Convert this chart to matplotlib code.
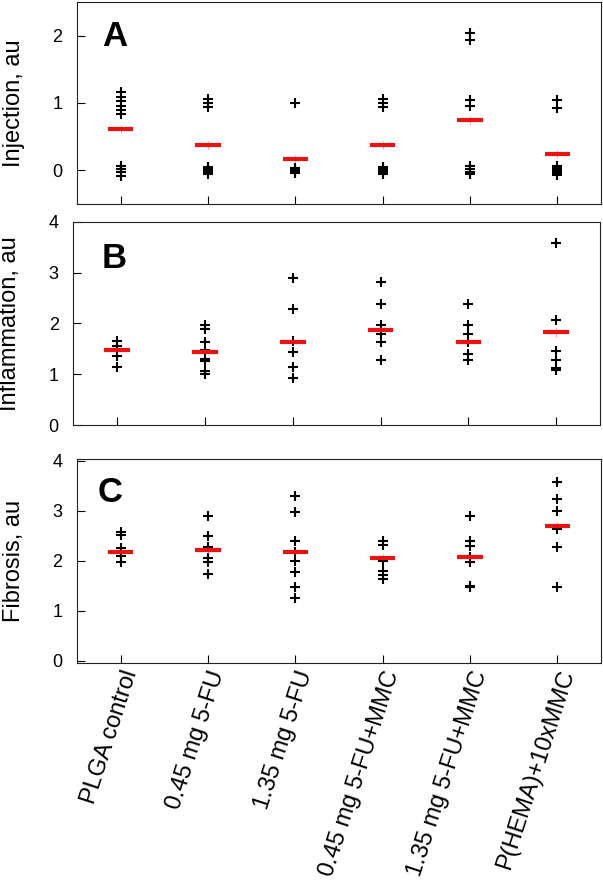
import matplotlib.pyplot as plt

plt.rcParams["font.family"] = ["Liberation Sans", "DejaVu Sans"]

groups = ["PLGA control", "0.45 mg 5-FU", "1.35 mg 5-FU",
          "0.45 mg 5-FU+MMC", "1.35 mg 5-FU+MMC", "P(HEMA)+10xMMC"]

# scores per group (jittered where they overlap)
injection = [
    [1.16, 1.09, 1.03, 0.96, 0.90, 0.84, 0.07, 0.02, -0.03, -0.08],
    [1.06, 1.00, 0.94, 0.05, 0.03, 0.01, -0.01, -0.03, -0.05],
    [1.00, 0.04, 0.02, 0.0, -0.02, -0.04],
    [1.06, 1.00, 0.94, 0.05, 0.03, 0.01, -0.01, -0.03, -0.05],
    [2.04, 1.94, 1.05, 0.95, 0.06, 0.02, -0.02, -0.06],
    [1.04, 0.93, 0.06, 0.035, 0.01, -0.015, -0.04, -0.065],
]
injection_mean = [0.62, 0.375, 0.165, 0.375, 0.75, 0.245]

inflammation = [
    [1.66, 1.55, 1.50, 1.36, 1.15],
    [1.96, 1.88, 1.64, 1.48, 1.29, 1.25, 1.06, 1.00],
    [2.89, 2.28, 1.66, 1.43, 1.15, 0.92],
    [2.81, 2.38, 1.97, 1.80, 1.63, 1.28],
    [2.38, 1.97, 1.80, 1.63, 1.39, 1.28],
    [3.59, 2.07, 1.46, 1.28, 1.12, 1.08],
]
inflammation_mean = [1.47, 1.44, 1.63, 1.865, 1.63, 1.82]

fibrosis = [
    [2.58, 2.51, 2.25, 2.10, 1.98],
    [2.89, 2.50, 2.28, 2.05, 1.98, 1.73],
    [3.30, 2.97, 2.39, 2.17, 1.99, 1.78, 1.48, 1.26],
    [2.40, 2.31, 2.00, 1.79, 1.71, 1.63],
    [2.89, 2.40, 2.29, 2.07, 1.98, 1.49, 1.47],
    [3.58, 3.23, 2.99, 2.63, 2.28, 1.47],
]
fibrosis_mean = [2.18, 2.21, 2.17, 2.05, 2.07, 2.70]

fig = plt.figure(figsize=(6.03, 8.86), dpi=100)


def panel(rect, values, means, ylim, yticks, ylabel, letter, letter_xy,
          label_x, show_names=False):
    ax = fig.add_axes(rect)
    for i, vals in enumerate(values, start=1):
        ax.plot([i] * len(vals), vals, linestyle="none", marker="+",
                ms=6.5, mew=1.5, color="black", zorder=2)
    xs = list(range(1, len(means) + 1))
    ax.hlines(means, [x - 0.145 for x in xs], [x + 0.145 for x in xs],
              color="#ee1111", lw=3, zorder=3)
    span = (ylim[1] - ylim[0]) / 3
    ax.vlines(xs, [m - 0.06 * span for m in means],
              [m + 0.06 * span for m in means],
              color="#ee1111", lw=0.6, alpha=0.5, zorder=3)
    ax.set_xlim(0.5, 6.5)
    ax.set_ylim(*ylim)
    ax.set_yticks(yticks)
    ax.set_xticks(xs)
    ax.tick_params(direction="in", length=6, width=0.8, top=False,
                   right=False, labelsize=13)
    ax.tick_params(axis="y", pad=10.5)
    if show_names:
        ax.set_xticklabels(groups, rotation=72, ha="right", va="top",
                           rotation_mode="anchor", fontsize=17)
    else:
        ax.set_xticklabels([])
    for s in ax.spines.values():
        s.set_linewidth(0.8)
        s.set_color("#222222")
    ax.set_ylabel(ylabel, fontsize=17)
    ax.yaxis.set_label_coords(label_x, 0.5)
    ax.text(letter_xy[0], letter_xy[1], letter, transform=ax.transAxes,
            fontsize=25, fontweight="bold", ha="left", va="baseline")
    return ax


panel([0.1277, 0.7698, 0.869, 0.228], injection, injection_mean,
      (-0.5, 2.5), [0, 1, 2], "Injection, au", "A", (0.048, 0.78), -0.1)
panel([0.1216, 0.5203, 0.8735, 0.2295], inflammation, inflammation_mean,
      (0, 4), [0, 1, 2, 3, 4], "Inflammation, au", "B", (0.053, 0.774),
      -0.1)
panel([0.1277, 0.252, 0.869, 0.2296], fibrosis, fibrosis_mean,
      (-0.04, 4.03), [0, 1, 2, 3, 4], "Fibrosis, au", "C", (0.04, 0.79),
      -0.1, show_names=True)

fig.savefig("out.png", dpi=100)
